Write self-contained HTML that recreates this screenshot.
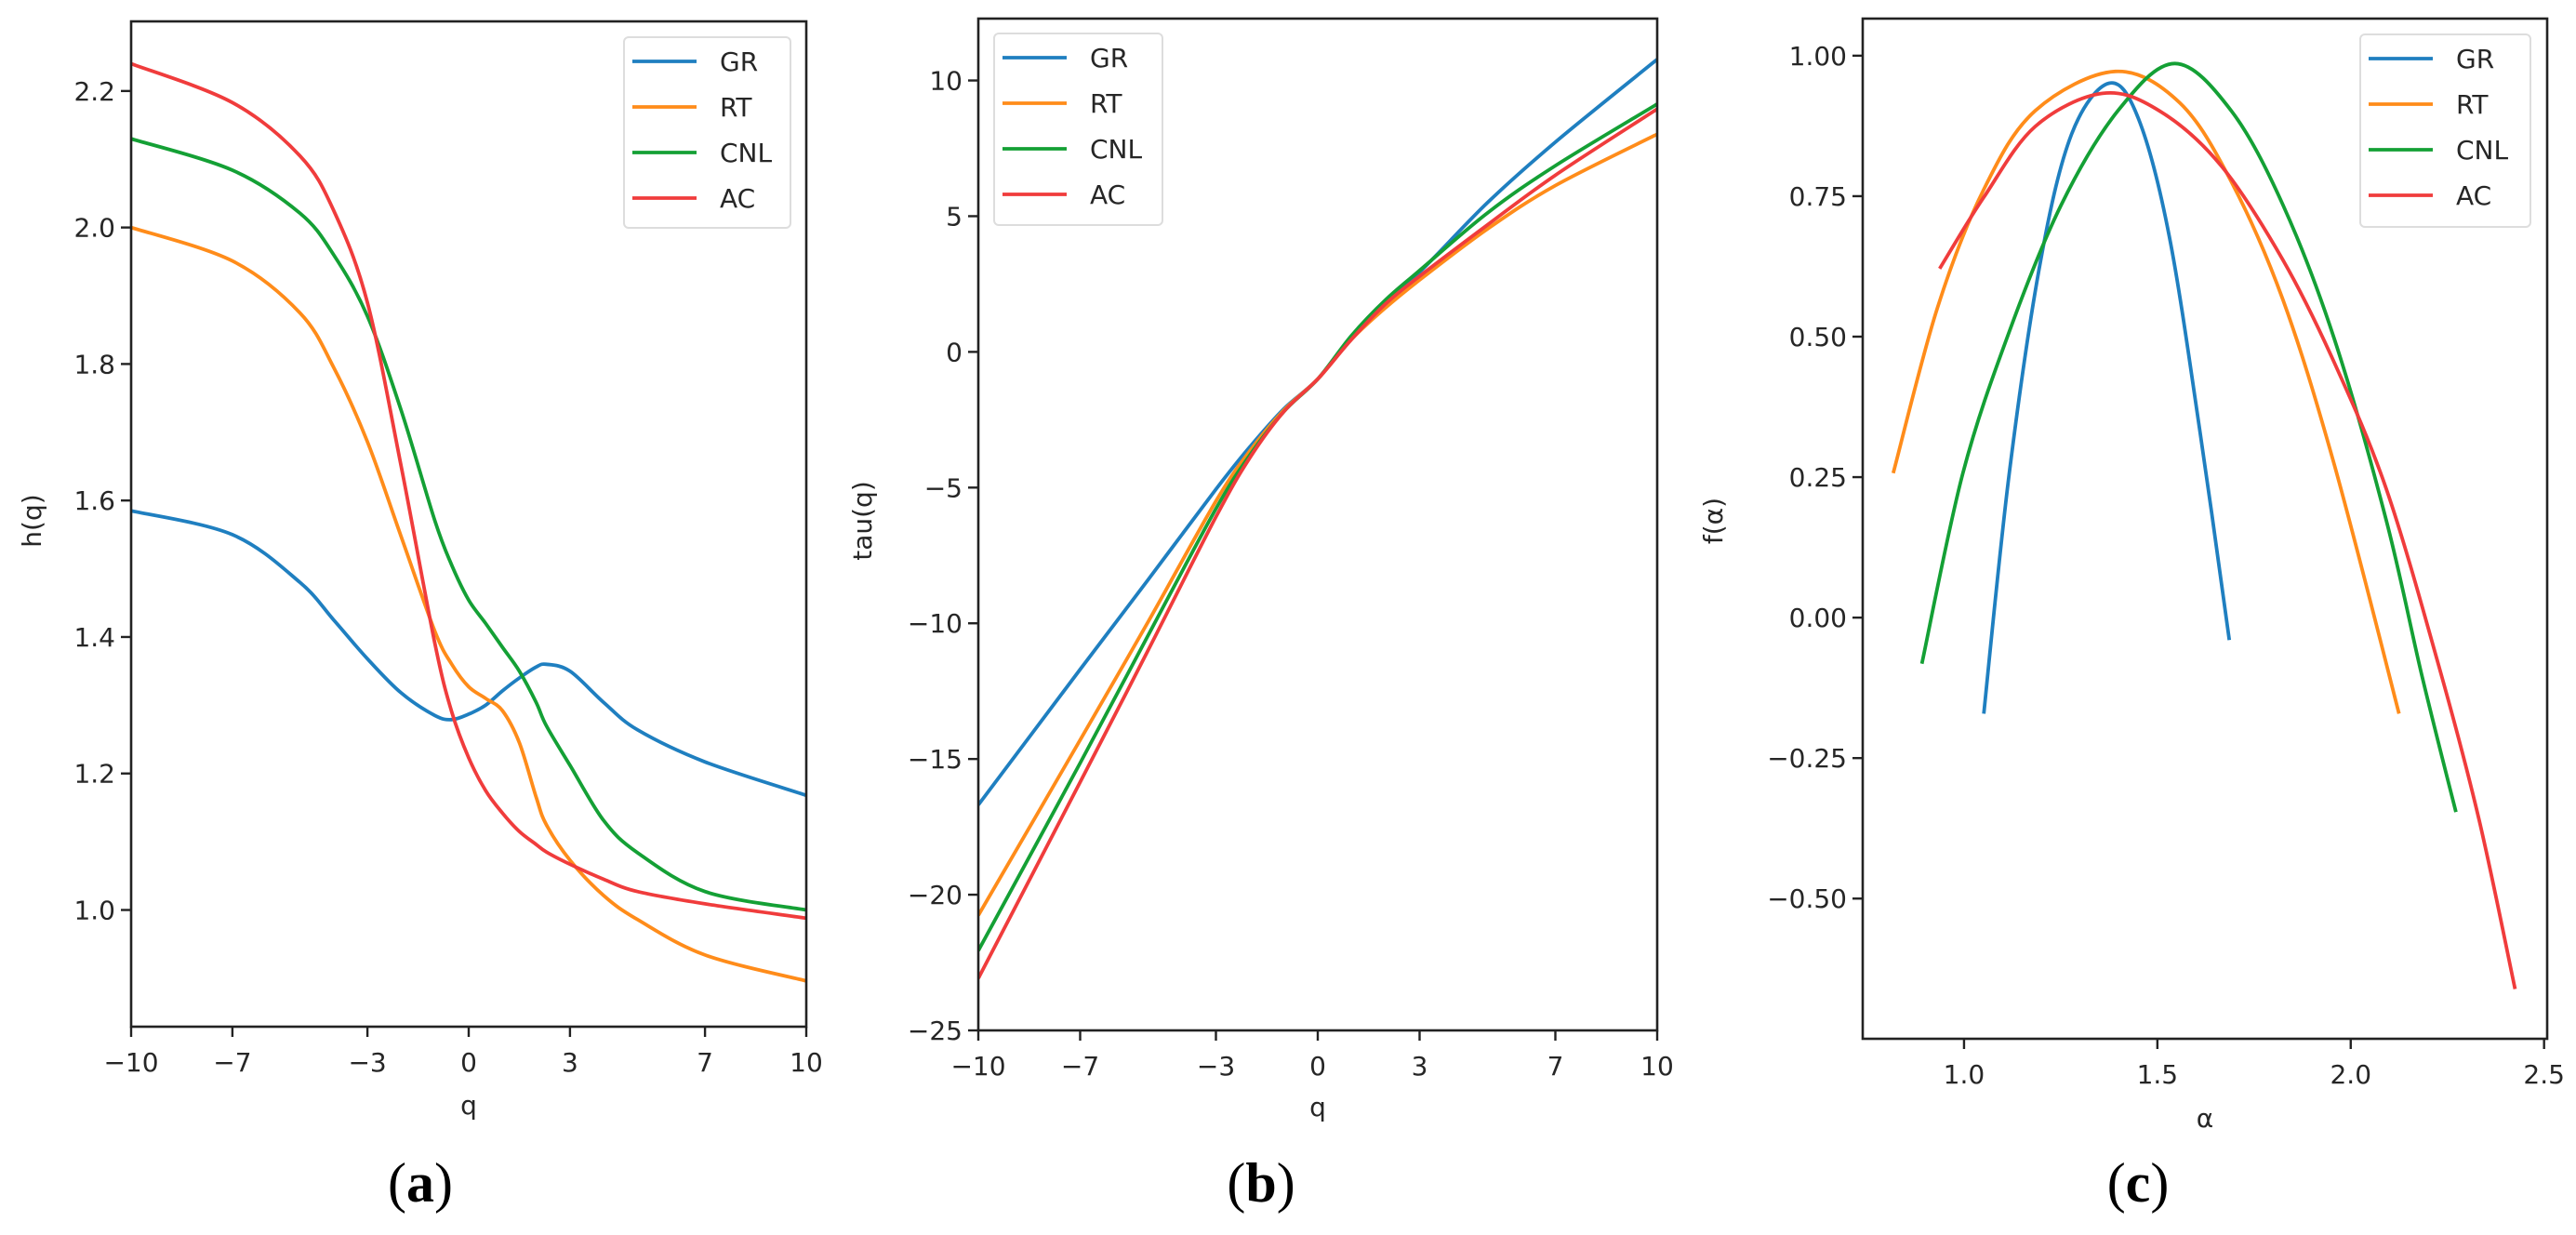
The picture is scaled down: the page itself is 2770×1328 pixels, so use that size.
<!DOCTYPE html>
<html><head><meta charset="utf-8"><style>
body{margin:0;background:#fff;}
svg{display:block;font-family:"DejaVu Sans","Liberation Sans",sans-serif;}
</style></head><body>
<svg id="fig" width="2770" height="1328" viewBox="0 0 2770 1328" xmlns="http://www.w3.org/2000/svg"></svg>
<script>
const seriesNames = ["GR","RT","CNL","AC"];
const colors = ["#1f7fc0","#ff8c1a","#14a035","#f03c3c"];
// Panel (a): h(q)
const qA = [-10,-7,-5,-4,-3,-2,-1,-0.5,0,0.5,1,1.5,2,2.3,3,4,5,7,10];
const hGR  = [1.585,1.55,1.48,1.425,1.368,1.318,1.285,1.279,1.287,1.30,1.321,1.34,1.356,1.36,1.35,1.304,1.264,1.217,1.168];
const hRT  = [2.0,1.951,1.875,1.795,1.686,1.547,1.408,1.36,1.327,1.31,1.292,1.245,1.165,1.125,1.073,1.021,0.986,0.934,0.896];
const hCNL = [2.13,2.084,2.021,1.96,1.87,1.732,1.57,1.505,1.454,1.42,1.385,1.35,1.304,1.27,1.212,1.131,1.084,1.027,1.0];
const hAC  = [2.24,2.183,2.105,2.025,1.89,1.65,1.39,1.29,1.223,1.175,1.142,1.115,1.096,1.085,1.067,1.045,1.027,1.009,0.988];
// Panel (b): tau(q)
const qB = [-10,-7,-5,-3,-2,-1,0,1,2,3,5,7,10];
const tGR  = [-16.69,-11.7,-8.4,-5.06,-3.5,-2.1,-1,0.55,1.9,2.94,5.5,7.73,10.78];
const tRT  = [-20.76,-14.3,-9.95,-5.5,-3.65,-2.15,-1,0.47,1.63,2.65,4.53,6.13,8.02];
const tCNL = [-22.06,-15.15,-10.45,-5.78,-3.8,-2.2,-1,0.61,1.92,3.0,5.12,6.86,9.13];
const tAC  = [-23.08,-15.85,-11.0,-6.08,-3.9,-2.2,-1,0.47,1.77,2.79,4.68,6.51,8.95];
// Panel (c): f(alpha)
const aGR  = [1.051,1.117,1.198,1.278,1.375,1.451,1.531,1.611,1.686];
const fGR  = [-0.171,0.257,0.635,0.86,0.951,0.888,0.678,0.327,-0.04];
const aRT  = [0.817,0.931,1.051,1.184,1.391,1.558,1.691,1.825,1.958,2.125];
const fRT  = [0.257,0.551,0.762,0.902,0.972,0.916,0.776,0.565,0.271,-0.171];
const aCNL = [0.891,0.997,1.117,1.251,1.398,1.545,1.691,1.825,1.958,2.092,2.185,2.272];
const fCNL = [-0.082,0.257,0.509,0.734,0.902,0.986,0.902,0.734,0.495,0.173,-0.106,-0.346];
const aAC  = [0.937,1.051,1.184,1.358,1.505,1.665,1.825,1.958,2.092,2.225,2.332,2.425];
const fAC  = [0.621,0.748,0.874,0.933,0.902,0.804,0.636,0.453,0.229,-0.079,-0.36,-0.661];
const qTicks = [-10,-7,-3,0,3,7,10];
const qTickLabels = ["\u221210","\u22127","\u22123","0","3","7","10"];
const hTicks = [1.0,1.2,1.4,1.6,1.8,2.0,2.2];
const hTickLabels = ["1.0","1.2","1.4","1.6","1.8","2.0","2.2"];
const tTicks = [-25,-20,-15,-10,-5,0,5,10];
const tTickLabels = ["\u221225","\u221220","\u221215","\u221210","\u22125","0","5","10"];
const aTicks = [1.0,1.5,2.0,2.5];
const aTickLabels = ["1.0","1.5","2.0","2.5"];
const fTicks = [-0.5,-0.25,0,0.25,0.5,0.75,1.0];
const fTickLabels = ["\u22120.50","\u22120.25","0.00","0.25","0.50","0.75","1.00"];

const NS="http://www.w3.org/2000/svg";
const svg=document.getElementById('fig');
function mk(tag,attrs,parent){const e=document.createElementNS(NS,tag);for(const k in attrs)e.setAttribute(k,attrs[k]);(parent||svg).appendChild(e);return e;}
function smoothPath(pts){
  let d="M"+pts[0][0].toFixed(1)+","+pts[0][1].toFixed(1);
  for(let i=0;i<pts.length-1;i++){
    const p0=pts[Math.max(0,i-1)],p1=pts[i],p2=pts[i+1],p3=pts[Math.min(pts.length-1,i+2)];
    const c1=[p1[0]+(p2[0]-p0[0])/6,p1[1]+(p2[1]-p0[1])/6];
    const c2=[p2[0]-(p3[0]-p1[0])/6,p2[1]-(p3[1]-p1[1])/6];
    d+=" C"+c1[0].toFixed(1)+","+c1[1].toFixed(1)+" "+c2[0].toFixed(1)+","+c2[1].toFixed(1)+" "+p2[0].toFixed(1)+","+p2[1].toFixed(1);
  }
  return d;
}
function panel(cfg){
  const g=mk('g',{});
  
  
  const X=v=>cfg.L+(v-cfg.x0)/(cfg.x1-cfg.x0)*(cfg.R-cfg.L);
  const Y=v=>cfg.B-(v-cfg.y0)/(cfg.y1-cfg.y0)*(cfg.B-cfg.T);
  const clip=mk('clipPath',{id:'clip-'+cfg.name},g);
  mk('rect',{x:cfg.L,y:cfg.T,width:cfg.R-cfg.L,height:cfg.B-cfg.T},clip);
  cfg.series.forEach((s,i)=>{
    const pts=s.x.map((v,j)=>[X(v),Y(s.y[j])]);
    const p=mk('path',{d:smoothPath(pts),fill:'none',stroke:colors[i],'stroke-width':3.8,'clip-path':'url(#clip-'+cfg.name+')'},g);
    
    
  });
  const fr=mk('rect',{x:cfg.L,y:cfg.T,width:cfg.R-cfg.L,height:cfg.B-cfg.T,fill:'none',stroke:'#222','stroke-width':2.6},g);
  
  
  cfg.xt.forEach((v,i)=>{
    const x=X(v);
    mk('line',{x1:x,x2:x,y1:cfg.B,y2:cfg.B+11,stroke:'#222','stroke-width':2.4},g);
    const t=mk('text',{x:x,y:cfg.B+48,'text-anchor':'middle','font-size':28,fill:'#262626'},g);
    t.textContent=cfg.xl[i];
    
    
  });
  cfg.yt.forEach((v,i)=>{
    const y=Y(v);
    mk('line',{x1:cfg.L-11,x2:cfg.L,y1:y,y2:y,stroke:'#222','stroke-width':2.4},g);
    const t=mk('text',{x:cfg.L-17,y:y+10,'text-anchor':'end','font-size':28,fill:'#262626'},g);
    t.textContent=cfg.yl[i];
    
    
  });
  const xt=mk('text',{x:(cfg.L+cfg.R)/2,y:cfg.xlabY,'text-anchor':'middle','font-size':28,fill:'#262626'},g);
  xt.textContent=cfg.xtitle;
  
  
  const yt=mk('text',{x:cfg.ylabX,y:560,'text-anchor':'middle','font-size':28,fill:'#262626',transform:'rotate(-90 '+cfg.ylabX+' 560)'},g);
  yt.textContent=cfg.ytitle;
  
  
  const lg=mk('g',{},g);
  
  
  mk('rect',{x:cfg.lg[0],y:cfg.lg[1],width:cfg.lg[2],height:cfg.lg[3],rx:5,fill:'#fff',stroke:'#ddd','stroke-width':2},lg);
  seriesNames.forEach((n,i)=>{
    const y=cfg.lg[1]+26+i*49;
    mk('line',{x1:cfg.lg[0]+9,x2:cfg.lg[0]+78,y1:y,y2:y,stroke:colors[i],'stroke-width':3.8},lg);
    const t=mk('text',{x:cfg.lg[0]+103,y:y+10,'font-size':28,fill:'#262626'},lg);
    t.textContent=n;
    
    
  });
  const pl=mk('text',{x:cfg.panelX,y:1292,'text-anchor':'middle','font-size':60,'font-family':'"Liberation Serif",serif',fill:'#000'},g);
  pl.innerHTML='(<tspan font-weight="bold">'+cfg.letter+'</tspan>)';
  
  
}
panel({name:'panel-a',L:141,R:867,T:23,B:1104,x0:-10,x1:10,y0:0.829,y1:2.302,
  xt:qTicks,xl:qTickLabels,yt:hTicks,yl:hTickLabels,xtitle:'q',ytitle:'h(q)',xlabY:1198,ylabX:44,
  lg:[671,40,179,205],panelX:452,letter:'a',
  series:[{x:qA,y:hGR},{x:qA,y:hRT},{x:qA,y:hCNL},{x:qA,y:hAC}]});
panel({name:'panel-b',L:1052,R:1782,T:20,B:1108,x0:-10,x1:10,y0:-25,y1:12.28,
  xt:qTicks,xl:qTickLabels,yt:tTicks,yl:tTickLabels,xtitle:'q',ytitle:'tau(q)',xlabY:1200,ylabX:937,
  lg:[1069,36,181,206],panelX:1356,letter:'b',
  series:[{x:qB,y:tGR},{x:qB,y:tRT},{x:qB,y:tCNL},{x:qB,y:tAC}]});
panel({name:'panel-c',L:2003,R:2739,T:20,B:1117,x0:0.738,x1:2.508,y0:-0.7495,y1:1.066,
  xt:aTicks,xl:aTickLabels,yt:fTicks,yl:fTickLabels,xtitle:'\u03b1',ytitle:'f(\u03b1)',xlabY:1212,ylabX:1852,
  lg:[2538,37,183,207],panelX:2299,letter:'c',
  series:[{x:aGR,y:fGR},{x:aRT,y:fRT},{x:aCNL,y:fCNL},{x:aAC,y:fAC}]});
</script>
</body></html>
